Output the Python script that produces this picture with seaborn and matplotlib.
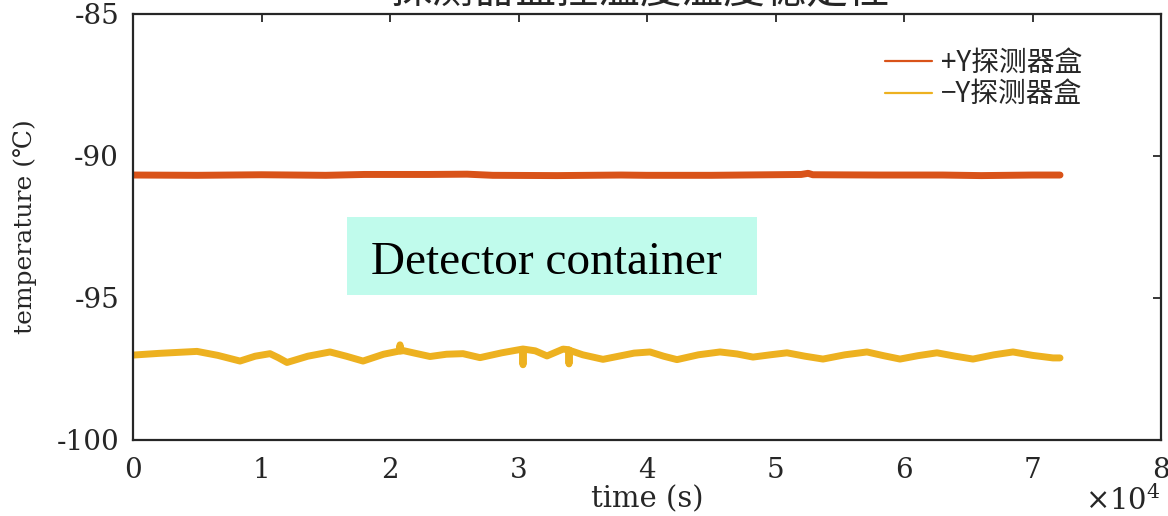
import numpy as np
import pandas as pd
import matplotlib
matplotlib.use("Agg")
import matplotlib.pyplot as plt
from matplotlib.patches import Rectangle
from matplotlib.lines import Line2D
from matplotlib.ticker import FuncFormatter
import seaborn as sns

# ---- data ----
pos_time = [0, 5000, 10000, 15000, 18000, 23000, 26000, 28000, 33000, 38000,
            40000, 45000, 52000, 52540, 52900, 58000, 63000, 66000, 70000, 72140]
pos_temp = [-90.67, -90.68, -90.66, -90.68, -90.65, -90.65, -90.64, -90.68, -90.69, -90.67,
            -90.68, -90.68, -90.65, -90.61, -90.66, -90.67, -90.67, -90.69, -90.67, -90.67]

neg_time = [0, 2000, 4980, 6600, 8327, 9500, 10661, 11300, 11984, 13600, 15331, 16600,
            17899, 19500, 20700, 20780, 20860, 21012, 22000, 23113, 24400, 25681, 27004,
            28700, 30300, 30350, 30400, 31300, 32218, 33463, 33900, 33930, 33960, 35000,
            36576, 37899, 39000, 40233, 41300, 42335, 44000, 45681, 47000, 48249, 49600,
            50895, 52300, 53696, 55400, 57121, 58400, 59689, 61100, 62568, 64000, 65370,
            67000, 68482, 70000, 71595, 72140]
neg_temp = [-97.01, -96.95, -96.88, -97.02, -97.22, -97.05, -96.96, -97.10, -97.27, -97.05,
            -96.90, -97.05, -97.22, -96.98, -96.87, -96.65, -96.87, -96.85, -96.95, -97.06,
            -96.98, -96.96, -97.10, -96.93, -96.80, -97.35, -96.80, -96.86, -97.04, -96.80,
            -96.82, -97.32, -96.84, -97.00, -97.16, -97.04, -96.94, -96.90, -97.05, -97.17,
            -97.00, -96.90, -96.97, -97.08, -97.00, -96.93, -97.05, -97.15, -97.00, -96.90,
            -97.03, -97.15, -97.03, -96.93, -97.05, -97.15, -97.00, -96.90, -97.02, -97.11,
            -97.11]

series_labels = ["+Y探测器盒", "\u2212Y探测器盒"]
series_colors = ["#D95319", "#EDB120"]
title_text = "探测器盒控温度温度稳定性"
xlabel_text = "time (s)"
ylabel_text = "temperature (\u2103)"
annot_text = "Detector container"
y_ticks = [-100, -95, -90, -85]
x_ticks = [0, 10000, 20000, 30000, 40000, 50000, 60000, 70000, 80000]

df = pd.concat([
    pd.DataFrame({"time": pos_time, "temp": pos_temp, "series": series_labels[0]}),
    pd.DataFrame({"time": neg_time, "temp": neg_temp, "series": series_labels[1]}),
])

sns.set_theme(style="white")
plt.rcParams["font.family"] = ["DejaVu Serif"]
plt.rcParams["mathtext.fontset"] = "dejavuserif"

W, H = 1168, 516
fig = plt.figure(figsize=(W / 100, H / 100), dpi=100)
ax = fig.add_axes([133 / W, 1 - 440 / H, (1161 - 133) / W, (440 - 14) / H])

sns.lineplot(data=df, x="time", y="temp", hue="series", palette=series_colors,
             hue_order=series_labels, ax=ax, linewidth=5.0, sort=False,
             estimator=None, legend=False)
for ln in ax.get_lines():
    ln.set_solid_joinstyle("round")

ax.set_xlim(0, 80000)
ax.set_ylim(-100, -85)
ax.set_xticks(x_ticks)
ax.set_yticks(y_ticks)
ax.xaxis.set_major_formatter(FuncFormatter(lambda v, p: f"{v/1e4:g}"))
ax.yaxis.set_major_formatter(FuncFormatter(lambda v, p: f"{v:g}"))

for s in ax.spines.values():
    s.set_color("#262626")
    s.set_linewidth(1.6)
ax.tick_params(direction="in", length=6, width=1.3, colors="#262626",
               top=True, right=True, labelsize=20, pad=12)
ax.tick_params(axis="y", pad=10)

ax.set_xlabel(xlabel_text, fontsize=21, color="#262626", labelpad=1)
ax.set_ylabel(ylabel_text, fontsize=18, color="#262626", labelpad=14)
ax.grid(False)

# offset text
fig.text(1161 / W, 1 - 510 / H, r"$\times 10^{4}$", ha="right", va="baseline",
         fontsize=21, color="#262626")

# title (mostly cut off at the top, as in the reference)
fig.text(640 / W, 1 - 3 / H, title_text, ha="center", va="baseline", fontsize=30,
         color="#262626", family=["Noto Sans CJK SC", "DejaVu Sans"])

# annotation box
ax.add_patch(Rectangle((0.2082, 0.3404), 0.3988, 0.1831, transform=ax.transAxes,
                       facecolor="#c0fbec", edgecolor="none", zorder=3))
ax.text(0.4018, 0.3897, annot_text, transform=ax.transAxes, ha="center", va="baseline",
        fontsize=34, color="black", family=["Liberation Serif"], zorder=4)

# legend
handles = [Line2D([], [], color=c, linewidth=1.6) for c in series_colors]
leg = fig.legend(handles, series_labels, loc="upper left",
                 bbox_to_anchor=(885 / W, 1 - 48 / H), frameon=False,
                 prop={"family": ["Noto Sans CJK SC", "DejaVu Sans"], "size": 20},
                 handlelength=1.7, handletextpad=0.3, labelspacing=0.05,
                 borderpad=0.0, borderaxespad=0.0)
for t in leg.get_texts():
    t.set_color("#262626")

fig.savefig("out.png", dpi=100)
